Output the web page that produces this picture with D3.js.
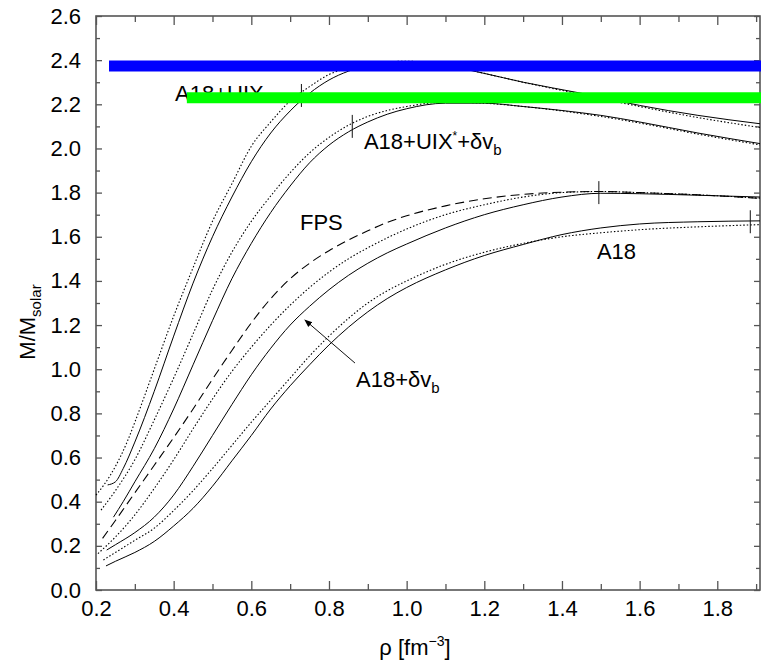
<!DOCTYPE html>
<html lang="en">
<head>
<meta charset="utf-8" />
<title>Neutron star mass vs central density</title>
<script src="https://d3js.org/d3.v7.min.js"></script>
<style>
  body { margin: 0; background: #fff; }
  text { font-family: "Liberation Sans", Arial, Helvetica, sans-serif; fill: #000; }
</style>
</head>
<body>
<script>
// axis ticks
var rhoTicks = [0.2, 0.4, 0.6, 0.8, 1.0, 1.2, 1.4, 1.6, 1.8];
var rhoMinor = [0.3, 0.5, 0.7, 0.9, 1.1, 1.3, 1.5, 1.7, 1.9];
var massTicks = [0.0, 0.2, 0.4, 0.6, 0.8, 1.0, 1.2, 1.4, 1.6, 1.8, 2.0, 2.2, 2.4, 2.6];
var massMinor = [0.1, 0.3, 0.5, 0.7, 0.9, 1.1, 1.3, 1.5, 1.7, 1.9, 2.1, 2.3, 2.5];

// curves [rho, M/Msolar]
var uixSolid = [[0.23,0.476],[0.25,0.49],[0.27,0.55],[0.30,0.67],[0.35,0.90],[0.40,1.15],[0.45,1.39],[0.50,1.60],[0.55,1.78],[0.60,1.94],[0.65,2.07],[0.70,2.17],[0.75,2.25],[0.80,2.31],[0.85,2.35],[0.90,2.375],[1.00,2.39],[1.10,2.375],[1.20,2.34],[1.30,2.30],[1.45,2.25],[1.60,2.195],[1.75,2.15],[1.91,2.112]];
var uixDotted = [[0.20,0.43],[0.22,0.475],[0.25,0.56],[0.28,0.67],[0.30,0.76],[0.35,1.00],[0.40,1.24],[0.45,1.46],[0.50,1.67],[0.55,1.84],[0.60,2.01],[0.65,2.12],[0.70,2.215],[0.75,2.28],[0.80,2.335],[0.85,2.365],[0.90,2.385],[1.00,2.395],[1.10,2.38],[1.20,2.34],[1.30,2.30],[1.45,2.245],[1.60,2.19],[1.75,2.14],[1.91,2.095]];
var uixStarSolid = [[0.245,0.33],[0.27,0.40],[0.30,0.49],[0.35,0.64],[0.40,0.82],[0.45,1.02],[0.50,1.22],[0.55,1.41],[0.60,1.57],[0.65,1.71],[0.70,1.83],[0.75,1.935],[0.80,2.015],[0.85,2.075],[0.90,2.12],[0.95,2.155],[1.00,2.18],[1.10,2.205],[1.20,2.205],[1.30,2.19],[1.40,2.172],[1.50,2.15],[1.60,2.12],[1.75,2.07],[1.91,2.022]];
var uixStarDotted = [[0.213,0.362],[0.25,0.45],[0.30,0.59],[0.35,0.77],[0.40,0.96],[0.45,1.16],[0.50,1.36],[0.55,1.53],[0.60,1.67],[0.65,1.785],[0.70,1.89],[0.75,1.98],[0.80,2.05],[0.85,2.105],[0.90,2.145],[0.95,2.172],[1.00,2.19],[1.10,2.21],[1.20,2.205],[1.30,2.19],[1.40,2.17],[1.50,2.145],[1.60,2.115],[1.75,2.065],[1.91,2.016]];
var fpsDashed = [[0.217,0.234],[0.25,0.315],[0.30,0.44],[0.35,0.565],[0.40,0.69],[0.45,0.82],[0.50,0.955],[0.55,1.085],[0.60,1.21],[0.65,1.32],[0.70,1.41],[0.75,1.48],[0.80,1.537],[0.85,1.585],[0.90,1.627],[0.95,1.665],[1.00,1.695],[1.10,1.74],[1.20,1.772],[1.30,1.792],[1.40,1.802],[1.50,1.805],[1.60,1.80],[1.75,1.79],[1.91,1.774]];
var dvbSolid = [[0.2275,0.181],[0.25,0.205],[0.30,0.26],[0.35,0.33],[0.40,0.43],[0.45,0.56],[0.50,0.70],[0.55,0.84],[0.60,0.975],[0.65,1.095],[0.70,1.20],[0.75,1.285],[0.80,1.36],[0.85,1.425],[0.90,1.48],[0.95,1.527],[1.00,1.567],[1.10,1.64],[1.20,1.70],[1.30,1.745],[1.40,1.78],[1.50,1.797],[1.60,1.795],[1.75,1.788],[1.91,1.78]];
var dvbDotted = [[0.205,0.165],[0.25,0.24],[0.30,0.34],[0.35,0.46],[0.40,0.59],[0.45,0.73],[0.50,0.865],[0.55,0.99],[0.60,1.10],[0.65,1.20],[0.70,1.29],[0.75,1.37],[0.80,1.44],[0.85,1.50],[0.90,1.55],[0.95,1.595],[1.00,1.635],[1.10,1.70],[1.20,1.745],[1.30,1.78],[1.40,1.80],[1.50,1.805],[1.60,1.80],[1.75,1.79],[1.91,1.775]];
var a18Solid = [[0.2257,0.109],[0.25,0.13],[0.30,0.17],[0.35,0.22],[0.40,0.29],[0.45,0.37],[0.50,0.47],[0.55,0.585],[0.60,0.70],[0.65,0.82],[0.70,0.925],[0.75,1.02],[0.80,1.11],[0.85,1.19],[0.90,1.26],[0.95,1.32],[1.00,1.37],[1.10,1.45],[1.20,1.515],[1.30,1.565],[1.40,1.61],[1.50,1.64],[1.60,1.658],[1.75,1.668],[1.91,1.672]];
var a18Dotted = [[0.219,0.136],[0.25,0.17],[0.30,0.225],[0.35,0.28],[0.40,0.36],[0.45,0.45],[0.50,0.55],[0.55,0.655],[0.60,0.76],[0.65,0.86],[0.70,0.96],[0.75,1.06],[0.80,1.15],[0.85,1.23],[0.90,1.30],[0.95,1.355],[1.00,1.40],[1.10,1.475],[1.20,1.53],[1.30,1.57],[1.40,1.60],[1.50,1.618],[1.60,1.632],[1.75,1.645],[1.91,1.655]];

// vertical marks on the curves
var markRho = [0.729, 0.86, 1.495, 1.885];
var markMass = [2.24, 2.10, 1.80, 1.668];

// horizontal bands
var bandStart = [0.2335, 0.434];
var bandEnd = [1.91, 1.91];
var bandMass = [2.3735, 2.23];

// labels
var labelRho = [0.4035, 0.890, 0.7254, 1.490, 0.8696];
var labelMass = [2.215, 1.9975, 1.6307, 1.4993, 0.9195];

// arrow [tail, head]
var arrowRho = [0.867, 0.738];
var arrowMass = [1.028, 1.223];

var w = 761, h = 661;
var fontSize = 22;

var xScale = d3.scaleLinear().domain([0.2, 1.91]).range([96, 760]);
var yScale = d3.scaleLinear().domain([0, 2.6]).range([590, 16]);

var svg = d3.select("body").append("svg")
    .attr("width", w)
    .attr("height", h);

svg.append("defs").append("marker")
    .attr("id", "head")
    .attr("viewBox", "0 0 10 10")
    .attr("refX", 9).attr("refY", 5)
    .attr("markerWidth", 8).attr("markerHeight", 8)
    .attr("markerUnits", "userSpaceOnUse")
    .attr("orient", "auto")
    .append("path")
    .attr("d", "M0,1 L10,5 L0,9 Z")
    .attr("fill", "#000");

// ticks, pointing inwards on all four sides
function tickAxis(axis, vals, size, transform, labels) {
    var g = svg.append("g")
        .attr("transform", transform)
        .call(axis.tickValues(vals).tickSize(size).tickSizeOuter(0));
    g.select(".domain").remove();
    g.selectAll("line").attr("stroke", "#555").attr("stroke-width", 1.3);
    if (!labels) g.selectAll("text").remove();
    return g;
}

var fmt = d3.format(".1f");
var xb = tickAxis(d3.axisBottom(xScale).tickFormat(fmt).tickPadding(10), rhoTicks, -9, "translate(0,590)", true);
tickAxis(d3.axisBottom(xScale), rhoMinor, -6, "translate(0,590)", false);
tickAxis(d3.axisTop(xScale), rhoTicks, -9, "translate(0,16)", false);
tickAxis(d3.axisTop(xScale), rhoMinor, -6, "translate(0,16)", false);
var yl = tickAxis(d3.axisLeft(yScale).tickFormat(fmt).tickPadding(15), massTicks, -6, "translate(96,0)", true);
tickAxis(d3.axisLeft(yScale), massMinor, -4, "translate(96,0)", false);
tickAxis(d3.axisRight(yScale), massTicks, -6, "translate(760,0)", false);
tickAxis(d3.axisRight(yScale), massMinor, -4, "translate(760,0)", false);

xb.selectAll("text").attr("font-size", fontSize).attr("font-family", null);
yl.selectAll("text").attr("font-size", fontSize).attr("font-family", null);

svg.append("rect")
    .attr("x", xScale(0.2)).attr("y", yScale(2.6))
    .attr("width", xScale(1.91) - xScale(0.2))
    .attr("height", yScale(0) - yScale(2.6))
    .attr("fill", "none")
    .attr("stroke", "#555")
    .attr("stroke-width", 1.6);

// curves
var line = d3.line()
    .x(function (d) { return xScale(d[0]); })
    .y(function (d) { return yScale(d[1]); })
    .curve(d3.curveMonotoneX);

var curves = [
    { data: uixSolid, dash: null },
    { data: uixDotted, dash: "1.5,2" },
    { data: uixStarSolid, dash: null },
    { data: uixStarDotted, dash: "1.5,2" },
    { data: fpsDashed, dash: "9,5" },
    { data: dvbSolid, dash: null },
    { data: dvbDotted, dash: "1.5,2" },
    { data: a18Solid, dash: null },
    { data: a18Dotted, dash: "1.5,2" }
];

svg.selectAll("path.curve")
    .data(curves)
    .enter()
    .append("path")
    .attr("class", "curve")
    .attr("d", function (d) { return line(d.data); })
    .attr("fill", "none")
    .attr("stroke", "#000")
    .attr("stroke-width", function (d) { return d.dash ? 1.1 : 1; })
    .attr("stroke-dasharray", function (d) { return d.dash; });

// marks
svg.selectAll("line.mark")
    .data(markRho)
    .enter()
    .append("line")
    .attr("class", "mark")
    .attr("x1", function (d) { return xScale(d); })
    .attr("x2", function (d) { return xScale(d); })
    .attr("y1", function (d, i) { return yScale(markMass[i] + 0.052); })
    .attr("y2", function (d, i) { return yScale(markMass[i] - 0.052); })
    .attr("stroke", "#111")
    .attr("stroke-width", 1);

// labels
var labels = svg.selectAll("text.lab")
    .data(labelRho)
    .enter()
    .append("text")
    .attr("class", "lab")
    .attr("x", function (d) { return xScale(d); })
    .attr("y", function (d, i) { return yScale(labelMass[i]); })
    .attr("font-size", 22);

labels.each(function (d, i) {
    var t = d3.select(this);
    if (i === 0) {
        t.text("A18+UIX");
    } else if (i === 1) {
        t.append("tspan").text("A18+UIX");
        t.append("tspan").attr("dy", -9).attr("font-size", 12).text("*");
        t.append("tspan").attr("dy", 9).text("+\u03b4v");
        t.append("tspan").attr("dy", 6).attr("font-size", 15).text("b");
    } else if (i === 2) {
        t.text("FPS");
    } else if (i === 3) {
        t.text("A18");
    } else {
        t.append("tspan").text("A18+\u03b4v");
        t.append("tspan").attr("dy", 6).attr("font-size", 15).text("b");
    }
});

// arrow
svg.append("line")
    .attr("x1", xScale(arrowRho[0])).attr("y1", yScale(arrowMass[0]))
    .attr("x2", xScale(arrowRho[1])).attr("y2", yScale(arrowMass[1]))
    .attr("stroke", "#111")
    .attr("stroke-width", 1)
    .attr("marker-end", "url(#head)");

// bands drawn over everything
var bandColors = ["#0000ff", "#00ff00"];
svg.selectAll("line.band")
    .data(bandMass)
    .enter()
    .append("line")
    .attr("class", "band")
    .attr("x1", function (d, i) { return xScale(bandStart[i]); })
    .attr("x2", function (d, i) { return xScale(bandEnd[i]) + 1; })
    .attr("y1", function (d) { return yScale(d); })
    .attr("y2", function (d) { return yScale(d); })
    .attr("stroke", function (d, i) { return bandColors[i]; })
    .attr("stroke-width", 11);

// axis titles
var yTitle = svg.append("text")
    .attr("text-anchor", "middle")
    .attr("transform", "translate(35,322) rotate(-90)")
    .attr("font-size", 22);
yTitle.append("tspan").text("M/M");
yTitle.append("tspan").attr("dy", 6).attr("font-size", 15).text("solar");

var xTitle = svg.append("text")
    .attr("text-anchor", "middle")
    .attr("x", 415)
    .attr("y", 655)
    .attr("font-size", 22);
xTitle.append("tspan").text("\u03c1 [fm");
xTitle.append("tspan").attr("dy", -9).attr("font-size", 14).text("\u22123");
xTitle.append("tspan").attr("dy", 9).text("]");
</script>
</body>
</html>
